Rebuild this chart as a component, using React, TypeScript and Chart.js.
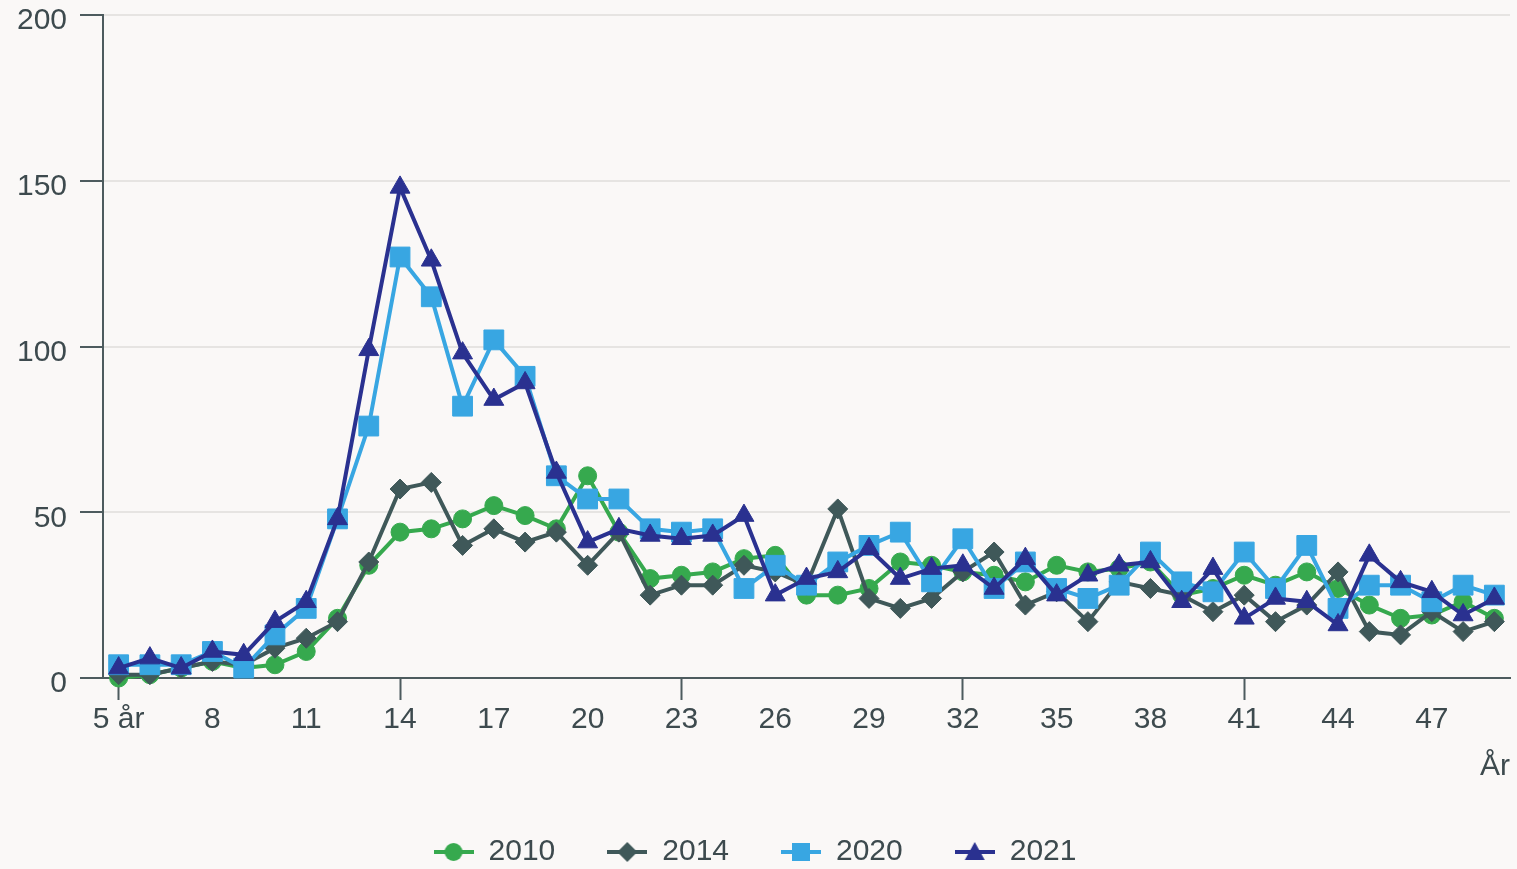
import React, { useEffect, useRef } from "react";
import { Chart, registerables } from "chart.js";

Chart.register(...registerables);

// Age categories (x axis)
const ages: number[] = [5, 6, 7, 8, 9, 10, 11, 12, 13, 14, 15, 16, 17, 18, 19, 20, 21, 22, 23, 24, 25, 26, 27, 28, 29, 30, 31, 32, 33, 34, 35, 36, 37, 38, 39, 40, 41, 42, 43, 44, 45, 46, 47, 48, 49];
const xLabels: string[] = ages.map((a, i) => (i === 0 ? `${a} år` : String(a)));

// Series values
const s2010: number[] = [0, 1, 3, 5, 3, 4, 8, 18, 34, 44, 45, 48, 52, 49, 45, 61, 44, 30, 31, 32, 36, 37, 25, 25, 27, 35, 34, 32, 31, 29, 34, 32, 33, 35, 25, 27, 31, 28, 32, 27, 22, 18, 19, 23, 18];
const s2014: number[] = [1, 1, 3, 5, 4, 9, 12, 17, 35, 57, 59, 40, 45, 41, 44, 34, 44, 25, 28, 28, 34, 32, 28, 51, 24, 21, 24, 32, 38, 22, 26, 17, 29, 27, 25, 20, 25, 17, 22, 32, 14, 13, 20, 14, 17];
const s2020: number[] = [4, 4, 4, 8, 3, 13, 21, 48, 76, 127, 115, 82, 102, 91, 61, 54, 54, 45, 44, 45, 27, 34, 28, 35, 40, 44, 29, 42, 27, 35, 27, 24, 28, 38, 29, 26, 38, 27, 40, 21, 28, 28, 23, 28, 25];
const s2021: number[] = [3, 6, 3, 8, 7, 17, 23, 48, 99, 148, 126, 98, 84, 89, 62, 41, 45, 43, 42, 43, 49, 25, 30, 32, 39, 30, 33, 34, 27, 36, 25, 31, 34, 35, 23, 33, 18, 24, 23, 16, 37, 29, 26, 19, 24];

const seriesNames: string[] = ["2010", "2014", "2020", "2021"];
const yTicks: number[] = [0, 50, 100, 150, 200];

const colors = {
  c2010: "#36a94e",
  c2014: "#3f5859",
  c2020: "#38a6e2",
  c2021: "#2a3190",
  text: "#3d4a4e",
  axis: "#4d5b5e",
  grid: "#e6e4e2",
};

const FONT = "'Liberation Sans', Arial, sans-serif";

function makeIcon(color: string, shape: string): HTMLCanvasElement {
  const c = document.createElement("canvas");
  c.width = 40;
  c.height = 26;
  const g = c.getContext("2d")!;
  g.strokeStyle = color;
  g.fillStyle = color;
  g.lineWidth = 4;
  g.beginPath();
  g.moveTo(0, 13);
  g.lineTo(40, 13);
  g.stroke();
  const cx = 20, cy = 13;
  g.beginPath();
  if (shape === "circle") {
    g.arc(cx, cy, 9, 0, Math.PI * 2);
  } else if (shape === "diamond") {
    g.moveTo(cx, cy - 10);
    g.lineTo(cx + 10, cy);
    g.lineTo(cx, cy + 10);
    g.lineTo(cx - 10, cy);
    g.closePath();
  } else if (shape === "square") {
    g.rect(cx - 9, cy - 9, 18, 18);
  } else {
    g.moveTo(cx, cy - 10);
    g.lineTo(cx + 10, cy + 8);
    g.lineTo(cx - 10, cy + 8);
    g.closePath();
  }
  g.fill();
  return c;
}

export default function App() {
  const ref = useRef<HTMLCanvasElement | null>(null);

  useEffect(() => {
    if (!ref.current) return;
    const icons = [
      makeIcon(colors.c2010, "circle"),
      makeIcon(colors.c2014, "diamond"),
      makeIcon(colors.c2020, "square"),
      makeIcon(colors.c2021, "triangle"),
    ];
    const mk = (label: string, data: number[], color: string, style: any, radius: number) => ({
      label,
      data,
      borderColor: color,
      backgroundColor: color,
      borderWidth: 4,
      pointStyle: style,
      pointRadius: radius,
      pointBackgroundColor: color,
      pointBorderColor: color,
      pointBorderWidth: 1,
      tension: 0,
      clip: false as any,
    });
    // drawn so that 2021 ends up on top (dataset 0 is drawn last)
    const datasets = [
      mk(seriesNames[3], s2021, colors.c2021, "triangle", 11.5),
      mk(seriesNames[2], s2020, colors.c2020, "rect", 14),
      mk(seriesNames[1], s2014, colors.c2014, "rectRot", 10),
      mk(seriesNames[0], s2010, colors.c2010, "circle", 9),
    ];

    const chart = new Chart(ref.current, {
      type: "line",
      data: { labels: xLabels, datasets },
      options: {
        animation: false,
        responsive: true,
        maintainAspectRatio: false,
        layout: { autoPadding: false, padding: { left: 0, right: 7, top: 0, bottom: -8 } },
        plugins: {
          tooltip: { enabled: false },
          legend: {
            position: "bottom",
            labels: {
              usePointStyle: true,
              pointStyleWidth: 40,
              padding: 52,
              color: colors.text,
              font: { family: FONT, size: 30 },
              generateLabels: () =>
                [0, 1, 2, 3].map((i) => ({
                  text: seriesNames[i],
                  pointStyle: icons[i] as any,
                  fillStyle: "transparent",
                  strokeStyle: "transparent",
                  lineWidth: 0,
                  hidden: false,
                  datasetIndex: 3 - i,
                  fontColor: colors.text,
                })),
            },
          },
        },
        scales: {
          x: {
            offset: true,
            grid: {
              offset: false,
              drawOnChartArea: false,
              drawTicks: true,
              tickLength: 22,
              tickWidth: 2,
              tickColor: (ctx: any) => (ctx.index % 3 === 0 ? colors.axis : "rgba(0,0,0,0)"),
            },
            border: { color: colors.axis, width: 2 },
            ticks: {
              autoSkip: false,
              maxRotation: 0,
              minRotation: 0,
              padding: 2,
              color: colors.text,
              font: { family: FONT, size: 30 },
              callback: (_v: any, i: number) => (i % 3 === 0 ? xLabels[i] : null),
            },
            title: {
              display: true,
              text: "År",
              align: "end",
              color: colors.text,
              font: { family: FONT, size: 30 },
              padding: { top: 0, bottom: 0 },
            },
            afterFit: (s: any) => {
              s.height = 107;
              s.paddingLeft = 0;
              s.paddingRight = 0;
            },
          },
          y: {
            min: 0,
            max: 200,
            afterBuildTicks: (s: any) => {
              s.ticks = yTicks.map((v) => ({ value: v }));
            },
            grid: {
              color: colors.grid,
              lineWidth: 2,
              tickColor: colors.axis,
              tickLength: 23,
              tickWidth: 2,
            },
            border: { color: colors.axis, width: 2 },
            ticks: {
              padding: 13,
              color: colors.text,
              font: { family: FONT, size: 30 },
              labelOffset: 6,
            },
            afterFit: (s: any) => {
              s.width = 103;
              s.paddingTop = 15;
              s.paddingBottom = 0;
            },
          },
        },
      },
    });
    return () => chart.destroy();
  }, []);

  return (
    <div
      style={{
        position: "fixed",
        left: 0,
        top: 0,
        width: 1517,
        height: 869,
        background: "#faf8f7",
      }}
    >
      <canvas ref={ref} />
    </div>
  );
}
